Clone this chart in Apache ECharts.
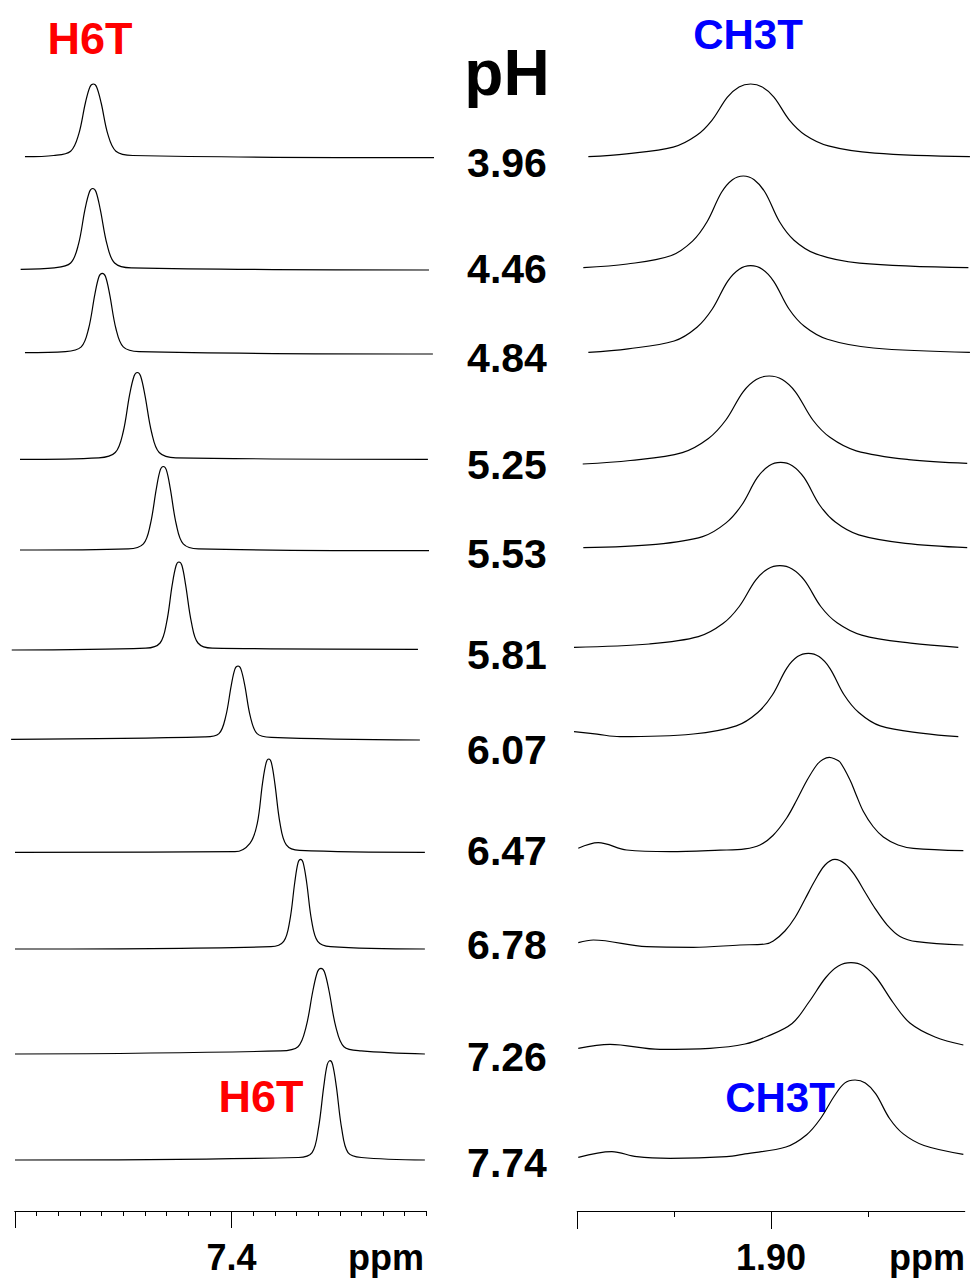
<!DOCTYPE html>
<html>
<head>
<meta charset="utf-8">
<script src="https://cdn.jsdelivr.net/npm/echarts@6.0.0/dist/echarts.min.js"></script>
<style>
  html, body { margin: 0; padding: 0; background: #ffffff; }
  #chart { width: 971px; height: 1281px; }
</style>
</head>
<body>
<div id="chart"></div>
<script>
// ---- Spectra: [chemical shift (ppm), intensity (a.u.)] ----
// H6T resonance, one trace per pH
const h6t_396 = [[7.4954,0.3],[7.4821,1.5],[7.4743,5.8],[7.4706,22.6],[7.4675,54.0],[7.4654,70.1],[7.4638,73],[7.4623,70.1],[7.4602,54.0],[7.4571,22.6],[7.4534,5.8],[7.4456,1.5],[7.3065,-0.7]];
const h6t_446 = [[7.4974,0.2],[7.4819,1.6],[7.4743,6.5],[7.4707,25.1],[7.4677,59.9],[7.4656,77.8],[7.4641,81],[7.4626,77.8],[7.4606,59.9],[7.4575,25.1],[7.4540,6.5],[7.4463,1.6],[7.3088,-0.5]];
const h6t_484 = [[7.4954,0.6],[7.4767,1.6],[7.4694,6.4],[7.4660,24.8],[7.4631,59.2],[7.4612,76.8],[7.4597,80],[7.4582,76.8],[7.4563,59.2],[7.4534,24.8],[7.4500,6.4],[7.4427,1.6],[7.3070,-0.7]];
const h6t_525 = [[7.4977,0.2],[7.4613,1.7],[7.4537,7.0],[7.4501,27.0],[7.4471,64.4],[7.4450,83.5],[7.4435,87],[7.4420,83.5],[7.4400,64.4],[7.4369,27.0],[7.4334,7.0],[7.4257,1.7],[7.3093,0.2]];
const h6t_553 = [[7.4977,0.5],[7.4477,1.7],[7.4407,6.7],[7.4375,26.0],[7.4347,62.2],[7.4329,80.6],[7.4315,84],[7.4301,80.6],[7.4283,62.2],[7.4255,26.0],[7.4223,6.7],[7.4153,1.7],[7.3088,-0.2]];
const h6t_581 = [[7.5015,0],[7.4396,1.8],[7.4330,7.0],[7.4300,27.3],[7.4274,65.1],[7.4256,84.5],[7.4243,88],[7.4229,84.5],[7.4212,65.1],[7.4185,27.3],[7.4155,7.0],[7.4089,1.8],[7.3139,0.7]];
const h6t_607 = [[7.5018,0.2],[7.4124,2.6],[7.4058,5.9],[7.4027,22.8],[7.4001,54.4],[7.3984,70.6],[7.3970,73.5],[7.3957,70.6],[7.3939,54.4],[7.3913,22.8],[7.3882,5.9],[7.3816,2.2],[7.3130,-0.5]];
const h6t_647 = [[7.5000,0],[7.3984,0.6],[7.3915,9.0],[7.3881,28.9],[7.3857,69.0],[7.3840,89.6],[7.3828,93.3],[7.3816,89.6],[7.3800,69.0],[7.3776,28.9],[7.3747,7.5],[7.3686,1.9],[7.3107,0]];
const h6t_678 = [[7.5000,-0.5],[7.3818,1.8],[7.3759,7.1],[7.3731,27.7],[7.3708,66.0],[7.3693,85.6],[7.3681,89.2],[7.3669,85.6],[7.3653,66.0],[7.3630,27.7],[7.3602,7.1],[7.3543,1.8],[7.3107,-0.5]];
const h6t_726 = [[7.5000,-0.5],[7.3773,2.6],[7.3693,6.8],[7.3656,26.4],[7.3624,63.0],[7.3603,81.8],[7.3587,85.2],[7.3571,81.8],[7.3550,63.0],[7.3518,26.4],[7.3481,6.8],[7.3401,2.6],[7.3107,-0.5]];
const h6t_774 = [[7.5000,-0.5],[7.3691,2.0],[7.3628,6.9],[7.3599,30.6],[7.3574,73.1],[7.3558,94.8],[7.3545,98.8],[7.3533,94.8],[7.3516,73.1],[7.3491,30.6],[7.3462,6.9],[7.3400,2.0],[7.3107,-0.5]];

// CH3T resonance, one trace per pH
const ch3t_396 = [[1.9943,0],[1.9746,2.9],[1.9505,9.5],[1.9385,21.1],[1.9305,36.4],[1.9225,59.6],[1.9165,69.8],[1.9105,72.7],[1.9045,69.8],[1.8985,59.6],[1.8904,36.4],[1.8824,21.8],[1.8704,10.9],[1.8464,3.6],[1.7973,0]];
const ch3t_446 = [[1.9969,0],[1.9742,3.7],[1.9518,11.9],[1.9405,26.6],[1.9330,45.9],[1.9256,75.2],[1.9199,88.0],[1.9143,91.7],[1.9087,88.0],[1.9030,75.2],[1.8956,45.9],[1.8881,27.5],[1.8768,13.8],[1.8543,4.6],[1.7981,0]];
const ch3t_484 = [[1.9943,0],[1.9738,3.5],[1.9500,11.3],[1.9382,25.1],[1.9303,43.3],[1.9224,71.0],[1.9164,83.1],[1.9105,86.6],[1.9045,83.1],[1.8986,71.0],[1.8907,43.3],[1.8828,26.0],[1.8709,13.0],[1.8472,4.3],[1.7973,0]];
const ch3t_525 = [[1.9972,0],[1.9727,3.5],[1.9458,11.4],[1.9323,25.5],[1.9233,44],[1.9144,72.2],[1.9076,84.5],[1.9009,88],[1.8942,84.5],[1.8874,72.2],[1.8784,44],[1.8694,26.4],[1.8560,13.2],[1.8290,4.4],[1.7987,0.7]];
const ch3t_553 = [[1.9969,0],[1.9594,3.4],[1.9353,11.1],[1.9232,24.8],[1.9151,42.7],[1.9071,70.0],[1.9010,82.0],[1.8950,85.4],[1.8890,82.0],[1.8829,70.0],[1.8749,42.7],[1.8668,25.6],[1.8547,12.8],[1.8306,4.3],[1.7987,0]];
const ch3t_581 = [[2.0017,0],[1.9628,3.3],[1.9375,10.6],[1.9248,23.7],[1.9164,40.8],[1.9080,66.9],[1.9017,78.3],[1.8954,81.6],[1.8891,78.3],[1.8827,66.9],[1.8743,40.8],[1.8659,24.5],[1.8532,12.2],[1.8279,4.1],[1.8033,0]];
const ch3t_607 = [[2.0017,5],[1.9898,2.5],[1.9780,0],[1.9401,2.7],[1.9179,10.8],[1.9068,24.2],[1.8993,41.7],[1.8919,68.4],[1.8863,80.1],[1.8807,83.4],[1.8752,80.1],[1.8696,68.4],[1.8622,41.7],[1.8547,24.2],[1.8436,10.8],[1.8214,3.3],[1.8033,0]];
const ch3t_647 = [[1.9995,2.2],[1.9892,7.8],[1.9745,0.5],[1.9521,-1.2],[1.9263,0.3],[1.9134,1.6],[1.9057,5.5],[1.8990,15],[1.8919,32.5],[1.8867,50.5],[1.8816,69.5],[1.8764,85.5],[1.8732,91],[1.8699,93.2],[1.8670,91.5],[1.8644,88.5],[1.8592,70.5],[1.8559,55],[1.8523,39],[1.8473,24],[1.8420,13.5],[1.8344,5.5],[1.8265,2.2],[1.8007,-0.2]];
const ch3t_678 = [[1.9995,3.3],[1.9917,6],[1.9642,-0.7],[1.9401,-1.3],[1.9160,1],[1.9030,2],[1.8988,5],[1.8928,15],[1.8876,28.5],[1.8824,47],[1.8773,65.5],[1.8721,81],[1.8670,86.7],[1.8618,82.3],[1.8566,70.4],[1.8515,54],[1.8463,37.7],[1.8401,21.2],[1.8334,9.6],[1.8246,4.3],[1.8007,1]];
const ch3t_726 = [[1.9995,-0.3],[1.9831,3.7],[1.9573,-1.3],[1.9315,-0.3],[1.9134,4],[1.9021,11.5],[1.8891,24.5],[1.8804,46],[1.8717,70.5],[1.8652,82],[1.8587,85.3],[1.8522,82],[1.8457,70.5],[1.8370,45.5],[1.8283,25],[1.8153,11],[1.8007,3]];
const ch3t_774 = [[1.9995,-0.3],[1.9822,5.3],[1.9693,0.3],[1.9521,-1.3],[1.9229,0.3],[1.9134,3.1],[1.8923,10],[1.8816,22.3],[1.8744,38.5],[1.8673,61],[1.8620,73.9],[1.8566,77],[1.8513,73.9],[1.8459,63.1],[1.8388,38.5],[1.8317,23.1],[1.8210,11.5],[1.8007,2.7]];

// pH of each sample, top to bottom
const phValues = ['3.96', '4.46', '4.84', '5.25', '5.53', '5.81', '6.07', '6.47', '6.78', '7.26', '7.74'];

const h6tSpectra  = [h6t_396, h6t_446, h6t_484, h6t_525, h6t_553, h6t_581, h6t_607, h6t_647, h6t_678, h6t_726, h6t_774];
const ch3tSpectra = [ch3t_396, ch3t_446, ch3t_484, ch3t_525, ch3t_553, ch3t_581, ch3t_607, ch3t_647, ch3t_678, ch3t_726, ch3t_774];

// Axis ticks (ppm)
const h6tMinorTicks  = [7.50, 7.49, 7.48, 7.47, 7.46, 7.45, 7.44, 7.43, 7.42, 7.41, 7.40, 7.39, 7.38, 7.37, 7.36, 7.35, 7.34, 7.33, 7.32, 7.31];
const h6tMajorTicks  = [7.50, 7.40];
const h6tLabelTicks  = [7.40];
const ch3tMinorTicks = [1.95, 1.85];
const ch3tMajorTicks = [2.00, 1.90];
const ch3tLabelTicks = [1.90];

// ---- Layout ----
const FONT = '"Liberation Sans", Arial, Helvetica, sans-serif';
const LEFT_PANEL  = { left: 15,    width: 411.4, min: 7.31, max: 7.50, digits: 1, pad: 12 };
const RIGHT_PANEL = { left: 577.3, width: 387.4, min: 1.80, max: 2.00, digits: 2, pad: 6 };
const AXIS_Y = 1211;
// baseline position of each stacked trace
const leftBaseY  = [157, 269.5, 353.3, 459.5, 550.5, 650, 739.5, 852.3, 948.5, 1053.5, 1159.5];
const rightBaseY = [156.7, 267.7, 352.3, 464, 547.7, 647.3, 736.7, 850.5, 946, 1048, 1157];
const phLabelY   = [163, 269, 358, 465, 554, 655, 750, 851, 945, 1057, 1163];

const grids = [], xAxes = [], yAxes = [], series = [];

// traces run a little past the scale bar: widen the grid by panel.pad px each side,
// keeping the same ppm-per-pixel scale
function padded(panel) {
  const ppmPerPx = (panel.max - panel.min) / panel.width;
  return {
    left: panel.left - panel.pad,
    width: panel.width + 2 * panel.pad,
    min: panel.min - panel.pad * ppmPerPx,
    max: panel.max + panel.pad * ppmPerPx
  };
}

function addTrace(panel, data, baseY) {
  const idx = grids.length;
  const p = padded(panel);
  grids.push({ left: p.left, width: p.width, top: baseY - 100, height: 100, outerBoundsMode: 'none' });
  xAxes.push({ type: 'value', gridIndex: idx, min: p.min, max: p.max, inverse: true, show: false });
  yAxes.push({ type: 'value', gridIndex: idx, min: 0, max: 100, show: false });
  series.push({
    type: 'line', xAxisIndex: idx, yAxisIndex: idx, data: data,
    showSymbol: false, symbol: 'none', smooth: 0.35, clip: false, silent: true,
    lineStyle: { color: '#000000', width: 1.2 }
  });
}

function addAxis(panel, tickValues, tickLen, labelValues) {
  const idx = grids.length;
  grids.push({ left: panel.left, width: panel.width, top: AXIS_Y - 100, height: 100, outerBoundsMode: 'none' });
  xAxes.push({
    type: 'value', gridIndex: idx, min: panel.min, max: panel.max, inverse: true, position: 'bottom',
    axisLine: { show: true, onZero: false, lineStyle: { color: '#000000', width: 1 } },
    axisTick: { show: true, inside: false, customValues: tickValues, length: tickLen, lineStyle: { color: '#000000', width: 1 } },
    axisLabel: labelValues ? {
      show: true, customValues: labelValues, margin: 28,
      formatter: function (v) { return Number(v).toFixed(panel.digits); },
      color: '#000000', fontSize: 36, fontWeight: 'bold', fontFamily: FONT
    } : { show: false },
    splitLine: { show: false }
  });
  yAxes.push({ type: 'value', gridIndex: idx, min: 0, max: 1, show: false });
}

h6tSpectra.forEach(function (d, i) { addTrace(LEFT_PANEL, d, leftBaseY[i]); });
ch3tSpectra.forEach(function (d, i) { addTrace(RIGHT_PANEL, d, rightBaseY[i]); });

addAxis(LEFT_PANEL, h6tMinorTicks, 5, null);
addAxis(LEFT_PANEL, h6tMajorTicks, 17, h6tLabelTicks);
addAxis(RIGHT_PANEL, ch3tMinorTicks, 6, null);
addAxis(RIGHT_PANEL, ch3tMajorTicks, 18, ch3tLabelTicks);

function label(text, x, y, size, color, align) {
  return {
    type: 'text', x: x, y: y, silent: true,
    style: {
      text: text, fill: color,
      font: 'bold ' + size + 'px ' + FONT,
      textAlign: align || 'center', textVerticalAlign: 'middle',
      align: align || 'center', verticalAlign: 'middle'
    }
  };
}

const graphics = [
  label('H6T', 90, 38.5, 45, '#ff0000'),
  label('pH', 507, 73, 64, '#000000'),
  label('CH3T', 748, 34, 42, '#0000ff'),
  label('H6T', 261, 1096.5, 45, '#ff0000'),
  label('CH3T', 780, 1097, 42, '#0000ff'),
  label('ppm', 348, 1257.5, 36, '#000000', 'left'),
  label('ppm', 889, 1257.5, 36, '#000000', 'left')
];
phValues.forEach(function (ph, i) { graphics.push(label(ph, 507, phLabelY[i], 41, '#000000')); });

const chart = echarts.init(document.getElementById('chart'), null, { renderer: 'svg', width: 971, height: 1281 });
chart.setOption({
  backgroundColor: '#ffffff',
  animation: false,
  grid: grids,
  xAxis: xAxes,
  yAxis: yAxes,
  series: series,
  graphic: graphics
});
</script>
</body>
</html>
